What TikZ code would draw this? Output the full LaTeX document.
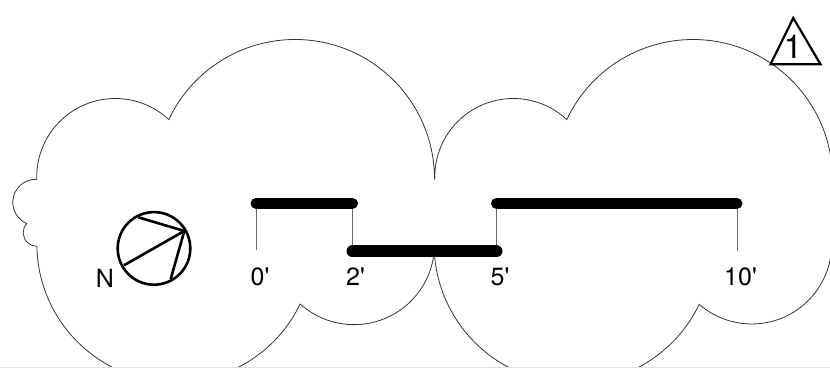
\documentclass[tikz,border=0pt]{standalone}
\usepackage{fontspec}
\setmainfont{TeX Gyre Heros}
\tikzset{
  outline/.style={line width=0.8pt,color=black!80},
  bar/.style={line width=11pt,line cap=round},
  tick/.style={line width=0.8pt,color=black!60},
  label/.style={inner sep=0pt,font=\fontsize{25}{25}\selectfont},
  compass/.style={line width=2.6pt}
}
\begin{document}
\begin{tikzpicture}[x=1pt,y=1pt]
    \useasboundingbox (0,0) rectangle (830,369);
    % cloud
    \begin{scope}
    \clip (0,2) rectangle (830,369);
    \draw[outline] (434.5,190)
        arc[start angle=0,end angle=154.8,radius=139.5]
        arc[start angle=47,end angle=181.7,radius=78.5]
        arc[start angle=87.5,end angle=246.8,radius=23]
        arc[start angle=138,end angle=270,radius=13.7]
        arc[start angle=181,end angle=334.3,radius=138.5]
        arc[start angle=228,end angle=355,radius=80.5]
        arc[start angle=183,end angle=334.3,radius=139.5]
        arc[start angle=229,end angle=360,radius=80]
        -- (832.5,190)
        arc[start angle=0,end angle=154.8,radius=139.5]
        arc[start angle=47,end angle=181.7,radius=78.5];
    \end{scope}
    \draw[black!12] (0,1.5) -- (830,1.5);
    % scale bar
    \coordinate (a0) at (256,165.6);
    \coordinate (a2) at (352.5,165.6);
    \coordinate (b2) at (352.5,117.6);
    \coordinate (b5) at (496.5,117.6);
    \coordinate (a5) at (496.5,165.6);
    \coordinate (a10) at (737,165.6);
    \coordinate (t0) at (256,118.5);
    \coordinate (t10) at (737,118);
    \draw[tick] (a0) -- (t0);
    \draw[tick] (a2) -- (b2);
    \draw[tick] (a5) -- (b5);
    \draw[tick] (a10) -- (t10);
    \draw[bar] (a0) -- (a2);
    \draw[bar,line width=12pt] (b2) -- (b5);
    \draw[bar] (a5) -- (a10);
    \node[label] (l0) at (260,92.3) {0\textquotesingle};
    \node[label] (l2) at (355.5,92.3) {2\textquotesingle};
    \node[label] (l5) at (500,92.3) {5\textquotesingle};
    \node[label] (l10) at (740.5,92.3) {10\textquotesingle};
    % north arrow
    \node[label] (north) at (105,90.3) {N};
    \draw[compass] (154,120.6) circle (36.3);
    \coordinate (tip) at (184.3,138);
    \coordinate (c1) at (138.3,151.7);
    \coordinate (c2) at (124,103.7);
    \coordinate (c3) at (170.7,90);
    \draw[compass] (c1) -- (tip) -- (c2);
    \draw[compass] (tip) -- (c3);
    % revision mark
    \coordinate (r1) at (793.3,351);
    \coordinate (r2) at (770.5,304.7);
    \coordinate (r3) at (820.5,304.7);
    \draw[line width=2.2pt,line join=miter] (r1) -- (r2) -- (r3) -- cycle;
    \node[inner sep=0pt,font=\fontsize{33}{33}\selectfont] (rev) at (793,322) {1};
\end{tikzpicture}
\end{document}
